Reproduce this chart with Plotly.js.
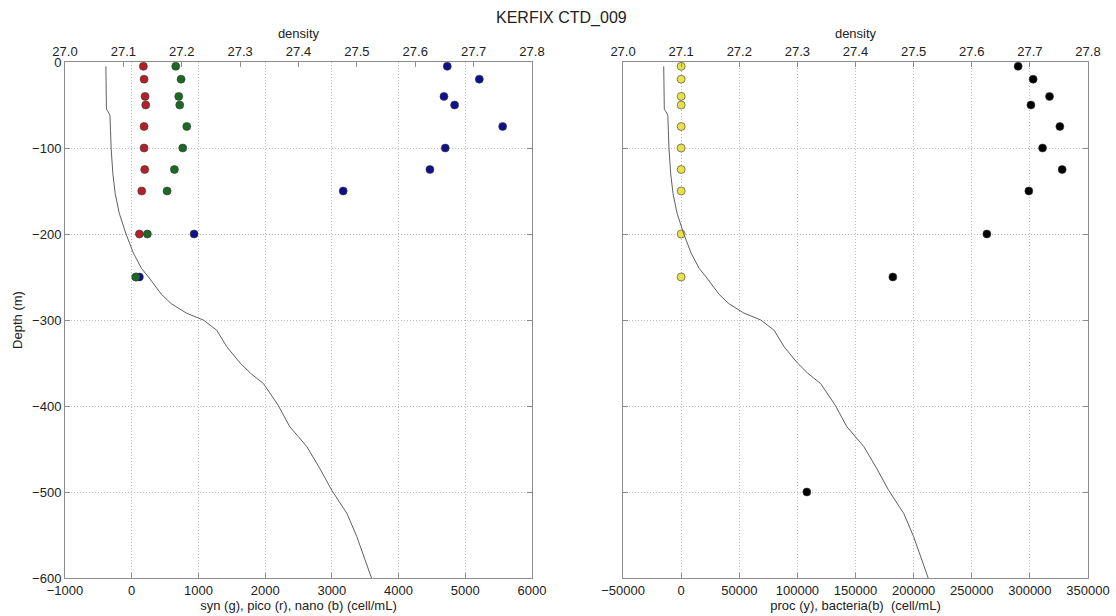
<!DOCTYPE html>
<html>
<head>
<meta charset="utf-8">
<script src="https://cdn.plot.ly/plotly-3.0.1.min.js"></script>
<style>
  html, body { margin: 0; padding: 0; background: #ffffff; }
  #chart { width: 1116px; height: 616px; }
</style>
</head>
<body>
<div id="chart"></div>
<script>
// Sampling depths (m) of the KERFIX CTD_009 cast
const sampleDepth = [-5, -20, -40, -50, -75, -100, -125, -150, -200, -250];

// Flow-cytometry counts (cell/mL)
const syn  = [660, 740, 705, 720, 825, 765, 640, 530, 235, 60];
const pico = [175, 185, 200, 210, 185, 185, 195, 150, 115, 70];
const nano = [4730, 5210, 4680, 4840, 5560, 4700, 4470, 3170, 935, 115];
const proc = [0, 0, 0, 0, 0, 0, 0, 0, 0, 0];

// Bacteria include one deeper sample at 500 m
const bactDepth = [-5, -20, -40, -50, -75, -100, -125, -150, -200, -250, -500];
const bacteria  = [289900, 302800, 316900, 300900, 325800, 310900, 327800, 299100, 263000, 182100, 108100];

// CTD density profile
const densDepth = [-5, -20, -40, -55, -58, -62, -80, -100, -130, -153, -176, -199, -222, -240,
                   -250, -260, -270, -281, -292, -300, -304, -312, -331, -350, -362, -374, -399,
                   -424, -447, -472, -498, -525, -552, -575, -600];
const density   = [27.070, 27.070, 27.071, 27.071, 27.074, 27.077, 27.078, 27.079, 27.082, 27.086,
                   27.093, 27.104, 27.117, 27.131, 27.143, 27.154, 27.165, 27.182, 27.208, 27.237,
                   27.245, 27.260, 27.277, 27.300, 27.318, 27.340, 27.365, 27.385, 27.414, 27.436,
                   27.457, 27.483, 27.500, 27.512, 27.525];

// Axis extents and tick labels
const countRangeL = [-1000, 6000];
const countRangeR = [-50000, 350000];
const densRange = [27.0, 27.8];
const depthRange = [-600, 0];
const depthTicks = [0, -100, -200, -300, -400, -500, -600];
const densTicks = [27.0, 27.1, 27.2, 27.3, 27.4, 27.5, 27.6, 27.7, 27.8];
const countTicksL = [-1000, 0, 1000, 2000, 3000, 4000, 5000, 6000];
const countTicksR = [-50000, 0, 50000, 100000, 150000, 200000, 250000, 300000, 350000];

const FONT = 'Liberation Sans, Arial, Helvetica, sans-serif';
const LINE = '#8c8c8c';
const GRID = '#bdbdbd';
const DOTS = '1px,2px';

function dots(x, y, color, xa, ya) {
  return {
    type: 'scatter', mode: 'markers', x: x, y: y, xaxis: xa, yaxis: ya,
    marker: { size: 8, color: color, line: { color: '#3a3a3a', width: 0.6 } },
    hoverinfo: 'x+y'
  };
}

function profile(xa, ya) {
  return {
    type: 'scatter', mode: 'lines', x: density, y: densDepth, xaxis: xa, yaxis: ya,
    line: { color: '#606060', width: 1 }, hoverinfo: 'x+y'
  };
}

const traces = [
  dots(pico, sampleDepth, '#b3202a', 'x', 'y'),
  dots(nano, sampleDepth, '#10108a', 'x', 'y'),
  dots(syn, sampleDepth, '#1a6a24', 'x', 'y'),
  profile('x2', 'y'),
  dots(proc, sampleDepth, '#e8e24a', 'x3', 'y2'),
  dots(bacteria, bactDepth, '#000000', 'x3', 'y2'),
  profile('x4', 'y2')
];

const signed = v => v < 0 ? '\u2212' + Math.abs(v) : String(v);

const bottomAxis = (domain, range, ticks, anchor, title) => ({
  domain: domain, range: range, anchor: anchor,
  tickvals: ticks, ticktext: ticks.map(signed),
  ticks: 'inside', ticklen: 5, tickcolor: LINE,
  showgrid: true, gridcolor: GRID, griddash: DOTS, gridwidth: 1,
  showline: true, linecolor: LINE, linewidth: 1, mirror: false,
  zeroline: false, fixedrange: true,
  tickfont: { family: FONT, size: 13, color: '#222' },
  title: { text: title, standoff: 2, font: { family: FONT, size: 13, color: '#222' } }
});

const topAxis = (domain, over, anchor) => ({
  domain: domain, overlaying: over, anchor: anchor, side: 'top',
  range: densRange, tickvals: densTicks, ticktext: densTicks.map(v => v.toFixed(1)),
  ticks: 'inside', ticklen: 5, tickcolor: LINE,
  showgrid: false, showline: true, linecolor: LINE, linewidth: 1,
  zeroline: false, fixedrange: true,
  tickfont: { family: FONT, size: 13, color: '#222' },
  title: { text: 'density', standoff: 2, font: { family: FONT, size: 13, color: '#222' } }
});

const depthAxis = (anchor, showLabels) => ({
  domain: [0, 1], range: depthRange, anchor: anchor,
  tickvals: depthTicks, ticktext: depthTicks.map(signed),
  showticklabels: showLabels,
  ticks: 'inside', ticklen: 5, tickcolor: LINE,
  showgrid: true, gridcolor: GRID, griddash: DOTS, gridwidth: 1,
  showline: true, linecolor: LINE, linewidth: 1, mirror: 'ticks',
  zeroline: false, fixedrange: true,
  tickfont: { family: FONT, size: 13, color: '#222' }
});

const leftDom = [0, 0.4565];
const rightDom = [0.5455, 1];

const yLeft = depthAxis('x', true);
yLeft.title = { text: 'Depth (m)', standoff: 6, font: { family: FONT, size: 13, color: '#222' } };
const yRight = depthAxis('x3', false);
yRight.matches = 'y';

const layout = {
  width: 1116, height: 616,
  margin: { l: 65, r: 28, t: 62, b: 38, pad: 0 },
  paper_bgcolor: '#ffffff', plot_bgcolor: '#ffffff',
  showlegend: false,
  font: { family: FONT, size: 13, color: '#222' },
  title: {
    text: 'KERFIX CTD_009', x: 0.503, xanchor: 'center',
    y: 0.972, yanchor: 'middle', yref: 'container',
    font: { family: FONT, size: 16, color: '#222' }
  },
  xaxis: bottomAxis(leftDom, countRangeL, countTicksL, 'y', 'syn (g), pico (r), nano (b) (cell/mL)'),
  xaxis2: topAxis(leftDom, 'x', 'y'),
  xaxis3: bottomAxis(rightDom, countRangeR, countTicksR, 'y2', 'proc (y), bacteria(b)  (cell/mL)'),
  xaxis4: topAxis(rightDom, 'x3', 'y2'),
  yaxis: yLeft,
  yaxis2: yRight
};

Plotly.newPlot('chart', traces, layout, { displayModeBar: false, staticPlot: true });
</script>
</body>
</html>
